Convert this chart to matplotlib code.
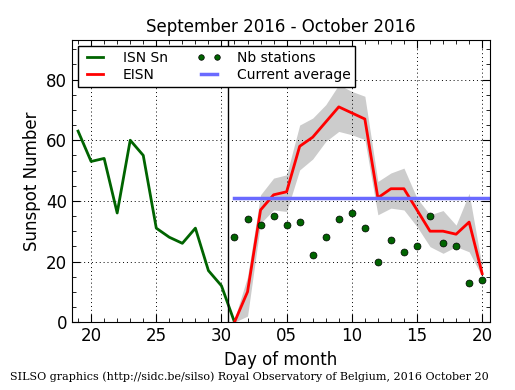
import datetime as dt
import matplotlib
matplotlib.use("Agg")
import matplotlib.pyplot as plt
import matplotlib.dates as mdates
from matplotlib.ticker import MultipleLocator

# ISN Sn, daily values Sept 19 .. Oct 1
isn_start = dt.datetime(2016, 9, 19)
isn_values = [63, 53, 54, 36, 60, 55, 31, 28, 26, 31, 17, 12, 0]

# EISN, band and station counts Oct 1 .. Oct 20
eisn_start = dt.datetime(2016, 10, 1)
eisn_values = [0, 10, 37, 42, 43, 58, 61, 66, 71, 69, 67, 41, 44, 44, 37, 30, 30, 29, 33, 16]
eisn_upper = [1, 15, 42, 47.5, 48.6, 65, 67.3, 71.7, 78.3, 76.1, 74.5, 46.4, 49.2, 50.8,
              40.9, 35.4, 36.8, 32, 42.5, 18.3]
eisn_lower = [0, 2, 32.6, 37, 36.5, 50.2, 53.8, 59.6, 62.9, 61.8, 60.2, 35.4, 37.6, 37,
              31.5, 24.9, 22.7, 24.9, 23.2, 15]
nb_stations = [28, 34, 32, 35, 32, 33, 22, 28, 34, 36, 31, 20, 27, 23, 25, 35, 26, 25, 13, 14]
current_average = 41

isn_dates = [isn_start + dt.timedelta(days=i) for i in range(len(isn_values))]
eisn_dates = [eisn_start + dt.timedelta(days=i) for i in range(len(eisn_values))]

fig = plt.figure(figsize=(5.15, 3.9), dpi=100, facecolor="white")
ax = fig.add_axes([0.14, 0.174, 0.811, 0.723])

ax.fill_between(eisn_dates, eisn_lower, eisn_upper, color="0.8", linewidth=0)
ax.plot(isn_dates, isn_values, color="#006400", lw=2, label="ISN Sn")
ax.plot(eisn_dates, eisn_values, color="red", lw=2, label="EISN")
ax.plot(eisn_dates, nb_stations, "o", color="#006400", mec="black", mew=0.5, ms=5,
        label="Nb stations")
ax.plot([eisn_dates[0], dt.datetime(2016, 10, 21)], [current_average] * 2,
        color="#6a6aff", lw=2.5, label="Current average")
ax.axvline(dt.datetime(2016, 9, 30, 12), color="black", lw=1)

ax.set_xlim(dt.datetime(2016, 9, 18, 13), dt.datetime(2016, 10, 20, 14))
ax.set_ylim(0, 93)
ax.xaxis.set_major_locator(mdates.DayLocator(bymonthday=[5, 10, 15, 20, 25, 30]))
ax.xaxis.set_major_formatter(mdates.DateFormatter("%d"))
ax.xaxis.set_minor_locator(mdates.DayLocator())
ax.yaxis.set_major_locator(MultipleLocator(20))
ax.yaxis.set_minor_locator(MultipleLocator(5))
ax.tick_params(which="both", direction="in", top=True, right=True, labelsize=12)
ax.tick_params(which="major", length=6)
ax.tick_params(which="minor", length=3)
ax.grid(True, which="major", linestyle=(0, (1, 3)), color="black", lw=0.7)

ax.set_xlabel("Day of month", fontsize=12)
ax.set_ylabel("Sunspot Number", fontsize=12)
ax.set_title("September 2016 - October 2016", fontsize=12)
leg = ax.legend(loc="upper left", ncol=2, fontsize=10, numpoints=2, fancybox=False,
                framealpha=1, edgecolor="black", handlelength=1.75, handletextpad=1.1,
                columnspacing=2.1, borderpad=0.35, labelspacing=0.2, borderaxespad=0.45,
                markerscale=0.8)
leg.get_frame().set_linewidth(1.0)

fig.text(0.02, 0.025, "SILSO graphics (http://sidc.be/silso) Royal Observatory of Belgium, 2016 October 20",
         family="DejaVu Serif", fontsize=8)

fig.savefig("out.png", dpi=100)
